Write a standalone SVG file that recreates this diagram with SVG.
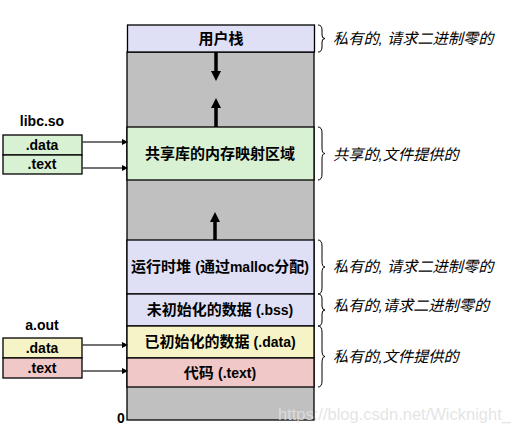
<svg xmlns="http://www.w3.org/2000/svg" width="511" height="433" viewBox="0 0 511 433">
<defs>
<style>
.box{stroke:#000;stroke-width:1.3}
.gray{fill:#c0c0c0}
.lav{fill:#dfdff5}
.grn{fill:#d9f1d3}
.yel{fill:#f6f4c6}
.pnk{fill:#f1c8c8}
.lbl{font-family:"Liberation Sans","Noto Sans CJK SC",sans-serif;font-weight:bold;font-size:15px;text-anchor:middle;fill:#000}
.lat{font-size:14px}
.sm{font-family:"Liberation Sans","Noto Sans CJK SC",sans-serif;font-weight:bold;font-size:14px;text-anchor:middle;fill:#000}
.side{font-family:"Liberation Sans","Noto Sans CJK SC",sans-serif;font-style:italic;font-size:15.2px;fill:#000}
.brace{fill:none;stroke:#000;stroke-width:1}
.conn{stroke:#444;stroke-width:1.3;fill:none}
.big{stroke:#000;stroke-width:3.5;fill:none}
</style>
<marker id="ah" markerWidth="6" markerHeight="6" refX="5" refY="3" orient="auto" markerUnits="userSpaceOnUse">
<path d="M0,0 L6,3 L0,6 Z" fill="#000"/>
</marker>
<marker id="bh" markerWidth="10" markerHeight="10" refX="0" refY="5" orient="auto" markerUnits="userSpaceOnUse">
<path d="M0,0 L10,5 L0,10 Z" fill="#000"/>
</marker>
</defs>

<g id="memory">
<rect class="box gray" x="127" y="52" width="187" height="368"/>
<g id="stack"><rect class="box lav" x="127.5" y="25" width="187" height="27"/><text class="lbl" x="221" y="44">用户栈</text></g>
<g id="shared"><rect class="box grn" x="127" y="127" width="187" height="53"/><text class="lbl" x="220" y="159">共享库的内存映射区域</text></g>
<g id="heap"><rect class="box lav" x="127" y="240" width="187" height="54"/><text class="lbl" x="220" y="272">运行时堆 <tspan class="lat">(</tspan>通过<tspan class="lat">malloc</tspan>分配<tspan class="lat">)</tspan></text></g>
<g id="bss"><rect class="box lav" x="127" y="294" width="187" height="32"/><text class="lbl" x="220" y="315">未初始化的数据 <tspan class="lat">(.bss)</tspan></text></g>
<g id="data"><rect class="box yel" x="127" y="326" width="187" height="32"/><text class="lbl" x="220" y="347">已初始化的数据 <tspan class="lat">(.data)</tspan></text></g>
<g id="text"><rect class="box pnk" x="127" y="358" width="187" height="29"/><text class="lbl" x="220" y="378">代码 <tspan class="lat">(.text)</tspan></text></g>
<text class="sm" x="121" y="423" font-size="13">0</text>
</g>

<g id="libc">
<text class="sm" x="42" y="126">libc.so</text>
<rect class="box grn" x="3" y="135" width="79" height="20"/><text class="sm" x="42" y="150">.data</text>
<rect class="box grn" x="3" y="155" width="79" height="19"/><text class="sm" x="42" y="169">.text</text>
</g>

<g id="aout">
<text class="sm" x="42" y="330">a.out</text>
<rect class="box yel" x="3" y="338" width="79" height="20"/><text class="sm" x="42" y="353">.data</text>
<rect class="box pnk" x="3" y="358" width="79" height="20"/><text class="sm" x="42" y="373">.text</text>
</g>

<g id="connectors">
<line class="conn" x1="82" y1="142" x2="127" y2="142" marker-end="url(#ah)"/>
<line class="conn" x1="82" y1="168" x2="127" y2="168" marker-end="url(#ah)"/>
<line class="conn" x1="82" y1="345" x2="127" y2="345" marker-end="url(#ah)"/>
<line class="conn" x1="82" y1="371" x2="127" y2="371" marker-end="url(#ah)"/>
<line class="big" x1="216" y1="52" x2="216" y2="71" marker-end="url(#bh)"/>
<line class="big" x1="216" y1="127" x2="216" y2="108" marker-end="url(#bh)"/>
<line class="big" x1="215" y1="240" x2="215" y2="222" marker-end="url(#bh)"/>
</g>

<g id="braces">
<path class="brace" d="M318,25 Q322,25 322,30 L322,35 Q322,38.5 325,38.5 Q322,38.5 322,42 L322,47 Q322,52 318,52"/>
<path class="brace" d="M318,127 Q322,127 322,133 L322,148 Q322,153.5 325,153.5 Q322,153.5 322,159 L322,174 Q322,180 318,180"/>
<path class="brace" d="M318,240 Q322,240 322,246 L322,261 Q322,267 325,267 Q322,267 322,273 L322,288 Q322,294 318,294"/>
<path class="brace" d="M318,294 Q322,294 322,299 L322,306 Q322,310 325,310 Q322,310 322,314 L322,321 Q322,326 318,326"/>
<path class="brace" d="M318,326 Q322,326 322,332 L322,350 Q322,356.5 325,356.5 Q322,356.5 322,363 L322,381 Q322,387 318,387"/>
</g>

<g id="notes">
<text class="side" x="333" y="44">私有的, 请求二进制零的</text>
<text class="side" x="333" y="160">共享的,文件提供的</text>
<text class="side" x="333" y="272">私有的, 请求二进制零的</text>
<text class="side" x="333" y="311">私有的,请求二进制零的</text>
<text class="side" x="333" y="362">私有的,文件提供的</text>
</g>

<text x="278" y="420" font-family="Liberation Sans,sans-serif" font-size="16.5" fill="#e0e0e0" fill-opacity="0.85">https://blog.csdn.net/Wicknight_</text>
</svg>
